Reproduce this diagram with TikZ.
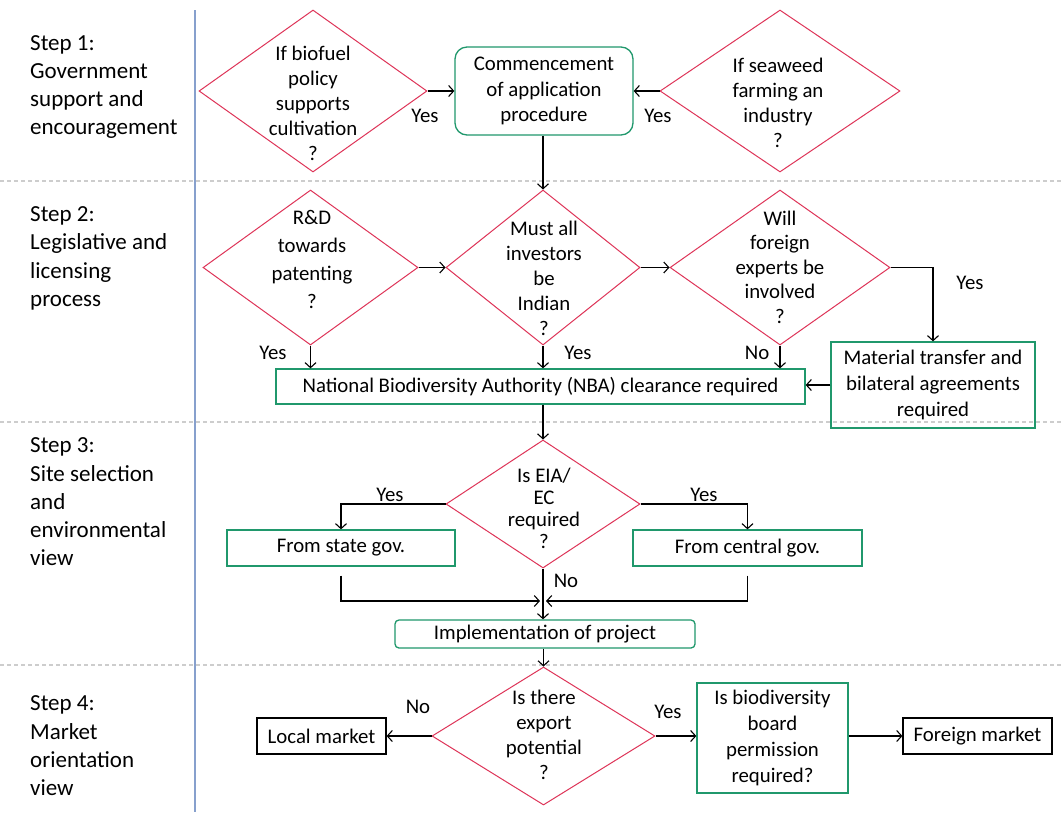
\documentclass[tikz,border=0pt]{standalone}
\usepackage{fontspec}
\setmainfont{Carlito}
\usetikzlibrary{shapes.geometric,arrows.meta}
\definecolor{dred}{RGB}{222,52,88}
\definecolor{bgreen}{RGB}{32,152,108}
\definecolor{lblue}{RGB}{135,160,205}
\definecolor{dgray}{RGB}{205,205,205}
\tikzset{
  dia/.style={shape=diamond, draw=dred, line width=1pt, inner sep=0pt},
  gbox/.style={draw=bgreen, line width=1.3pt, inner sep=0pt, align=center, font=\fontsize{20.8}{25.5}\selectfont},
  kbox/.style={draw=black, line width=1.2pt, inner sep=0pt, align=center, font=\fontsize{20.8}{25}\selectfont},
  txt/.style={align=center, font=\fontsize{20.8}{25}\selectfont, inner sep=0pt},
  steptxt/.style={align=left, anchor=west, font=\fontsize{23}{28.3}\selectfont, inner sep=0pt},
  arr/.style={-{Straight Barb[length=5pt,width=11pt]}, line width=1.1pt},
  sep/.style={draw=dgray, line width=1.4pt, dash pattern=on 4pt off 3pt}
}
\begin{document}
\begin{tikzpicture}[x=1pt,y=-1pt]
\useasboundingbox (0,0) rectangle (1062,812);
\fill[white] (0,0) rectangle (1062,812);
% separators
\draw[sep] (0,181) -- (1062,181);
\draw[sep] (0,422) -- (1062,422);
\draw[sep] (0,665) -- (1062,665);
\draw[draw=lblue, line width=1.3pt] (195,10) -- (195,812);
% step labels
\node[steptxt] (s1) at (30,87) {Step 1:\\Government\\support and\\encouragement};
\node[steptxt] (s2) at (30,258.5) {Step 2:\\Legislative and\\licensing\\process};
\node[steptxt] (s3) at (30,502) {Step 3:\\Site selection\\and\\environmental\\view};
\node[steptxt] (s4) at (30,746) {Step 4:\\Market\\orientation\\view};
% diamonds
\node[dia, minimum width=228pt, minimum height=162pt] (d1) at (313,91) {};
\node[txt] (d1t) at (313,103) {If biofuel\\policy\\supports\\cultivation\\?};
\node[dia, minimum width=240pt, minimum height=162pt] (d2) at (780,91) {};
\node[txt] (d2t) at (778,102.5) {If seaweed\\farming an\\industry\\?};
\node[dia, minimum width=215pt, minimum height=155pt] (d3) at (310.5,267.5) {};
\node[txt, font=\fontsize{20.8}{28}\selectfont] (d3t) at (312,259.5) {R\&D\\towards\\patenting\\?};
\node[dia, minimum width=194pt, minimum height=155pt] (d4) at (543,267.5) {};
\node[txt] (d4t) at (544,278) {Must all\\investors\\be\\Indian\\?};
\node[dia, minimum width=220pt, minimum height=155pt] (d5) at (780,267.5) {};
\node[txt, font=\fontsize{20.8}{24.5}\selectfont] (d5t) at (780,267) {Will\\foreign\\experts be\\involved\\?};
\node[dia, minimum width=194pt, minimum height=128pt] (d6) at (543,504) {};
\node[txt, font=\fontsize{20.8}{22}\selectfont] (d6t) at (544,508.5) {Is EIA/\\EC\\required\\?};
\node[dia, minimum width=223pt, minimum height=138pt] (d7) at (543.5,736) {};
\node[txt] (d7t) at (544,734.5) {Is there\\export\\potential\\?};
% boxes
\node[gbox, rounded corners=12pt, minimum width=178pt, minimum height=88pt] (comm) at (544,91) {Commencement\\of application\\procedure};
\node[gbox, minimum width=529pt, minimum height=35pt] (nba) at (540.5,386.5) {National Biodiversity Authority (NBA) clearance required};
\node[gbox, minimum width=204pt, minimum height=86pt, font=\fontsize{20.8}{26}\selectfont] (mat) at (933,385) {Material transfer and\\bilateral agreements\\required};
\node[gbox, minimum width=228pt, minimum height=36pt] (state) at (341,548) {From state gov.};
\node[gbox, minimum width=229pt, minimum height=36pt] (central) at (747.5,548) {From central gov.};
\node[gbox, rounded corners=4pt, minimum width=300pt, minimum height=28pt] (impl) at (545,634) {Implementation of project};
\node[kbox, minimum width=129pt, minimum height=36pt] (local) at (321.5,736) {Local market};
\node[gbox, minimum width=151pt, minimum height=110pt, font=\fontsize{20.8}{26}\selectfont] (bio) at (772.5,738) {Is biodiversity\\board\\permission\\required?};
\node[kbox, minimum width=149pt, minimum height=36pt] (foreign) at (977.5,736) {Foreign market};
% labels
\node[txt] (y1) at (425,116) {Yes};
\node[txt] (y2) at (658,116) {Yes};
\node[txt] (y3) at (273,353) {Yes};
\node[txt] (y4) at (578,353) {Yes};
\node[txt] (n5) at (757,353) {No};
\node[txt] (y5) at (970,283) {Yes};
\node[txt] (y6l) at (390,495) {Yes};
\node[txt] (y6r) at (704,495) {Yes};
\node[txt] (n6) at (566,581) {No};
\node[txt] (n7) at (418,707) {No};
\node[txt] (y7) at (668,712) {Yes};
% connectors
\draw[arr] (d1.east) -- (comm.west);
\draw[arr] (d2.west) -- (comm.east);
\draw[arr] (comm.south -| d4.north) -- (d4.north);
\draw[arr] (d3.east) -- (d4.west);
\draw[arr] (d4.east) -- (d5.west);
\draw[arr] (d5.east) -| (mat.north);
\draw[arr] (mat.west) -- (mat.west -| nba.east);
\draw[arr] (d3.south) -- (d3.south |- nba.north);
\draw[arr] (d4.south) -- (d4.south |- nba.north);
\draw[arr] (d5.south) -- (d5.south |- nba.north);
\draw[arr] (nba.south -| d6.north) -- (d6.north);
\draw[arr] (d6.west) -| (state.north);
\draw[arr] (d6.east) -| (central.north);
\draw[arr] (d6.south) -- (d6.south |- impl.north);
\coordinate (m) at (543,601);
\draw[arr] ([yshift=-9pt]state.south) |- ([xshift=-3pt]m);
\draw[arr] ([yshift=-9pt]central.south) |- ([xshift=3pt]m);
\draw[arr] (impl.south -| d7.north) -- (d7.north);
\draw[arr] (d7.west) -- (local.east);
\draw[arr] (d7.east) -- (d7.east -| bio.west);
\draw[arr] (bio.east |- foreign.west) -- (foreign.west);
\end{tikzpicture}
\end{document}
